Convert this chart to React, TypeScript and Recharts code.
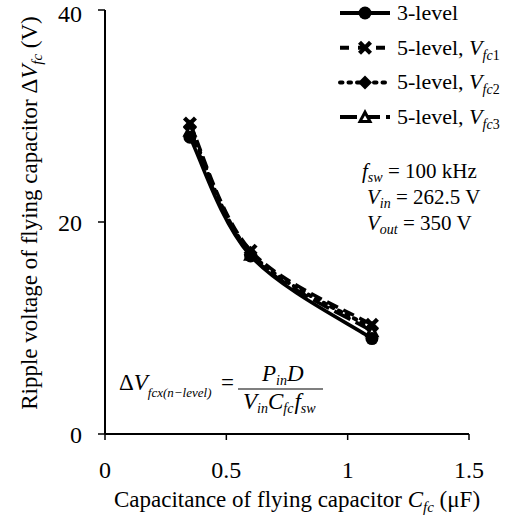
import React from 'react';
import { LineChart, Line, XAxis, YAxis } from 'recharts';

// Flying capacitor ripple vs. capacitance
const capacitance = [0.35, 0.6, 1.1];
const level3 = [28.0, 16.8, 9.0];
const level5Vfc1 = [29.3, 17.3, 10.3];
const level5Vfc2 = [29.0, 17.1, 10.0];
const level5Vfc3 = [28.6, 16.9, 9.7];

const xTicks = [0, 0.5, 1, 1.5];
const yTicks = [0, 20, 40];

const data = capacitance.map((c, i) => ({
  c,
  l3: level3[i],
  v1: level5Vfc1[i],
  v2: level5Vfc2[i],
  v3: level5Vfc3[i],
}));

const FONT = '"Liberation Serif", "Times New Roman", Times, serif';

// Spreadsheet-style smoothed line: cubic Bezier segments whose control
// points follow the neighbouring points (Catmull-Rom with 1/6 tangents).
const smoothCurve: any = (context: any) => {
  let pts: [number, number][] = [];
  return {
    areaStart() {},
    areaEnd() {},
    lineStart() {
      pts = [];
    },
    point(x: number, y: number) {
      pts.push([+x, +y]);
    },
    lineEnd() {
      if (!pts.length) return;
      context.moveTo(pts[0][0], pts[0][1]);
      for (let i = 0; i < pts.length - 1; i++) {
        const p0 = pts[i - 1] || pts[i];
        const p1 = pts[i];
        const p2 = pts[i + 1];
        const p3 = pts[i + 2] || pts[i + 1];
        const c1x = p1[0] + (p2[0] - p0[0]) / 6;
        const c1y = p1[1] + (p2[1] - p0[1]) / 6;
        const c2x = p2[0] - (p3[0] - p1[0]) / 6;
        const c2y = p2[1] - (p3[1] - p1[1]) / 6;
        context.bezierCurveTo(c1x, c1y, c2x, c2y, p2[0], p2[1]);
      }
    },
  };
};

const CircleMark = ({ cx, cy }: any) =>
  cx == null ? null : <circle cx={cx} cy={cy} r={6.5} fill="#000" />;

const CrossMark = ({ cx, cy }: any) => {
  if (cx == null) return null;
  const s = 5.5;
  return (
    <g stroke="#000" strokeWidth={4.2} strokeLinecap="butt">
      <line x1={cx - s} y1={cy - s} x2={cx + s} y2={cy + s} />
      <line x1={cx - s} y1={cy + s} x2={cx + s} y2={cy - s} />
    </g>
  );
};

const DiamondMark = ({ cx, cy }: any) => {
  if (cx == null) return null;
  const s = 7;
  return <polygon points={`${cx},${cy - s} ${cx + s},${cy} ${cx},${cy + s} ${cx - s},${cy}`} fill="#000" />;
};

const TriangleMark = ({ cx, cy }: any) => {
  if (cx == null) return null;
  return (
    <g>
      <polygon points={`${cx},${cy - 8} ${cx + 7.5},${cy + 6} ${cx - 7.5},${cy + 6}`} fill="#000" />
      <polygon points={`${cx},${cy - 1.5} ${cx + 2.6},${cy + 3} ${cx - 2.6},${cy + 3}`} fill="#fff" />
    </g>
  );
};

const legendRows = [
  { name: '3-level', sub: '', dash: undefined as string | undefined, cap: 'butt', Mark: CircleMark },
  { name: '5-level, ', sub: '1', dash: '9 9', cap: 'butt', Mark: CrossMark },
  { name: '5-level, ', sub: '2', dash: '2.5 6', cap: 'round', Mark: DiamondMark },
  { name: '5-level, ', sub: '3', dash: '17 6', cap: 'butt', Mark: TriangleMark },
];

export default function App() {
  return (
    <div style={{ position: 'absolute', left: 0, top: 0, width: 513, height: 522, background: '#fff', fontFamily: FONT }}>
      <LineChart width={513} height={522} data={data} margin={{ top: 10, right: 44, bottom: 0, left: 0 }}>
        <XAxis
          type="number"
          dataKey="c"
          domain={[0, 1.5]}
          ticks={xTicks}
          height={88}
          axisLine={{ stroke: '#000', strokeWidth: 2 }}
          tickLine={{ stroke: '#000', strokeWidth: 1.5 }}
          tickSize={6}
          tickMargin={21}
          tick={{ fill: '#000', fontSize: 24, fontFamily: FONT }}
        />
        <YAxis
          type="number"
          domain={[0, 40]}
          ticks={yTicks}
          width={105}
          axisLine={{ stroke: '#000', strokeWidth: 2 }}
          tickLine={{ stroke: '#000', strokeWidth: 1.5 }}
          tickSize={7}
          tickMargin={16}
          tick={{ fill: '#000', fontSize: 24, fontFamily: FONT }}
        />
        <Line type={smoothCurve} dataKey="v1" stroke="#000" strokeWidth={3.5} strokeDasharray="12 6" dot={<CrossMark />} isAnimationActive={false} />
        <Line type={smoothCurve} dataKey="v2" stroke="#000" strokeWidth={4} strokeDasharray="2.5 6" strokeLinecap="round" dot={<DiamondMark />} isAnimationActive={false} />
        <Line type={smoothCurve} dataKey="v3" stroke="#000" strokeWidth={3.5} strokeDasharray="18 6" dot={<TriangleMark />} isAnimationActive={false} />
        <Line type={smoothCurve} dataKey="l3" stroke="#000" strokeWidth={3.5} dot={<CircleMark />} isAnimationActive={false} />
      </LineChart>

      <svg width={513} height={522} style={{ position: 'absolute', left: 0, top: 0, pointerEvents: 'none', fontFamily: FONT }} fill="#000">
        {/* Legend */}
        {legendRows.map((r, i) => {
          const cy = 13 + i * 34.7;
          const M = r.Mark;
          return (
            <g key={i}>
              <line x1={340} x2={390} y1={cy} y2={cy} stroke="#000" strokeWidth={4} strokeDasharray={r.dash} strokeLinecap={r.cap as any} />
              <M cx={365} cy={cy} />
              <text x={397} y={cy + 7} fontSize={22}>
                {r.name}
                {r.sub && (
                  <>
                    <tspan fontStyle="italic">V</tspan>
                    <tspan fontSize={14} dy={5} fontStyle="italic">fc</tspan>
                    <tspan fontSize={14}>{r.sub}</tspan>
                  </>
                )}
              </text>
            </g>
          );
        })}

        {/* Operating conditions */}
        <text x={362} y={178} fontSize={21}>
          <tspan fontStyle="italic">f</tspan>
          <tspan fontSize={14} fontStyle="italic" dy={4}>sw</tspan>
          <tspan dy={-4}> = 100 kHz</tspan>
        </text>
        <text x={367} y={204} fontSize={21}>
          <tspan fontStyle="italic">V</tspan>
          <tspan fontSize={14} fontStyle="italic" dy={4}>in</tspan>
          <tspan dy={-4}> = 262.5 V</tspan>
        </text>
        <text x={367} y={230} fontSize={21}>
          <tspan fontStyle="italic">V</tspan>
          <tspan fontSize={14} fontStyle="italic" dy={4}>out</tspan>
          <tspan dy={-4}> = 350 V</tspan>
        </text>

        {/* Ripple formula */}
        <text x={119} y={390} fontSize={23}>
          Δ<tspan fontStyle="italic">V</tspan>
          <tspan fontSize={13} fontStyle="italic" dy={7}>fcx(n−level)</tspan>
        </text>
        <text x={221} y={390} fontSize={23}>=</text>
        <line x1={238} x2={323} y1={389} y2={389} stroke="#000" strokeWidth={1.2} />
        <text x={262} y={381} fontSize={23}>
          <tspan fontStyle="italic">P</tspan>
          <tspan fontSize={14} fontStyle="italic" dy={4}>in</tspan>
          <tspan fontStyle="italic" dy={-4}>D</tspan>
        </text>
        <text x={243} y={409} fontSize={23}>
          <tspan fontStyle="italic">V</tspan>
          <tspan fontSize={14} fontStyle="italic" dy={4}>in</tspan>
          <tspan fontStyle="italic" dy={-4}>C</tspan>
          <tspan fontSize={14} fontStyle="italic" dy={4}>fc</tspan>
          <tspan fontStyle="italic" dy={-4} dx={1}>f</tspan>
          <tspan fontSize={14} fontStyle="italic" dy={4}>sw</tspan>
        </text>

        {/* Axis titles */}
        <text x={297} y={507} fontSize={23} textAnchor="middle">
          Capacitance of flying capacitor <tspan fontStyle="italic">C</tspan>
          <tspan fontSize={15} fontStyle="italic" dy={5}>fc</tspan>
          <tspan dy={-5}> (μF)</tspan>
        </text>
        <text transform="rotate(-90)" x={-213} y={37} fontSize={23} textAnchor="middle">
          Ripple voltage of flying capacitor Δ<tspan fontStyle="italic">V</tspan>
          <tspan fontSize={15} fontStyle="italic" dy={5}>fc</tspan>
          <tspan dy={-5}> (V)</tspan>
        </text>
      </svg>
    </div>
  );
}
